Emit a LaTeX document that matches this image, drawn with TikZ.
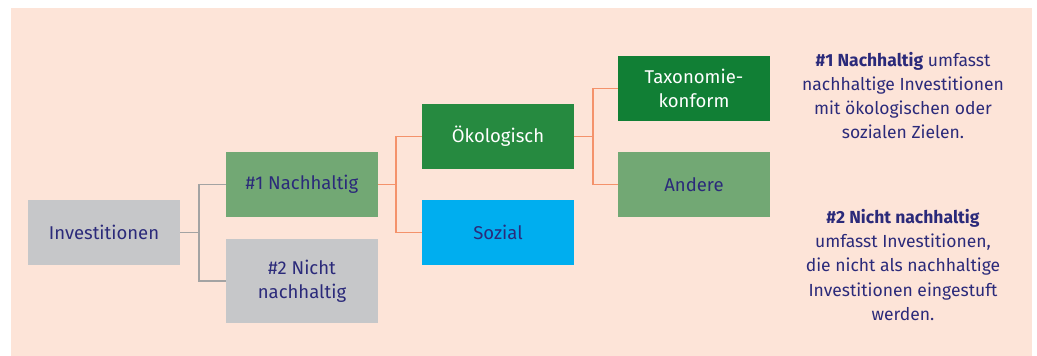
\documentclass[tikz,border=0pt]{standalone}
\usepackage{fontspec}
\setmainfont{Fira Sans}
\definecolor{bgpeach}{HTML}{FDE4D8}
\definecolor{navy}{HTML}{2B2A7A}
\definecolor{boxgray}{HTML}{C6C7C9}
\definecolor{lightgreen}{HTML}{72A874}
\definecolor{midgreen}{HTML}{268A40}
\definecolor{darkgreen}{HTML}{117F35}
\definecolor{skyblue}{HTML}{00AEEF}
\definecolor{linegray}{HTML}{A3A3A3}
\definecolor{lineorange}{HTML}{F4926B}
\tikzset{
    catbox/.style={minimum width=152pt,minimum height=65pt,inner sep=0,align=center,
        font=\fontsize{18.5}{24}\selectfont,text=navy},
    grayline/.style={draw=linegray,line width=1.6pt},
    orangeline/.style={draw=lineorange,line width=1.5pt},
    sidetext/.style={align=center,text=navy,font=\fontsize{17.5}{24.3}\selectfont,inner sep=0}
}
\begin{document}
\begin{tikzpicture}[x=1pt,y=-1pt]
        \useasboundingbox (0,0) rectangle (1037,356);
        \fill[bgpeach] (11,8) rectangle (1032,356);
        \node[catbox,fill=boxgray] (inv) at (104,232.5) {Investitionen};
        \node[catbox,fill=lightgreen] (nach) at (302,184.5) {\#1 Nachhaltig};
        \node[catbox,fill=boxgray,minimum height=84pt] (nicht) at (302,281) {\#2 Nicht\\nachhaltig};
        \node[catbox,fill=midgreen,text=white] (oeko) at (498,136.5) {Ökologisch};
        \node[catbox,fill=skyblue] (sozial) at (498,232.5) {Sozial};
        \node[catbox,fill=darkgreen,text=white] (taxo) at (694,88.5) {Taxonomie-\\konform};
        \node[catbox,fill=lightgreen] (andere) at (694,184.5) {Andere};
        \draw[grayline] (inv.east) -- ++(19,0) coordinate (invfork) |- (nach.west);
        \draw[grayline] (invfork) |- (nicht.west);
        \draw[orangeline] (nach.east) -- ++(18,0) coordinate (nachfork) |- (oeko.west);
        \draw[orangeline] (nachfork) |- (sozial.west);
        \draw[orangeline] (oeko.east) -- ++(19,0) coordinate (oekofork) |- (taxo.west);
        \draw[orangeline] (oekofork) |- (andere.west);
        \node[sidetext] (def1) at (903,95.5) {\textbf{\#1 Nachhaltig} umfasst\\nachhaltige Investitionen\\mit ökologischen oder\\sozialen Zielen.};
        \node[sidetext] (def2) at (903,265) {\textbf{\#2 Nicht nachhaltig}\\umfasst Investitionen,\\die nicht als nachhaltige\\Investitionen eingestuft\\werden.};
    \end{tikzpicture}
\end{document}
